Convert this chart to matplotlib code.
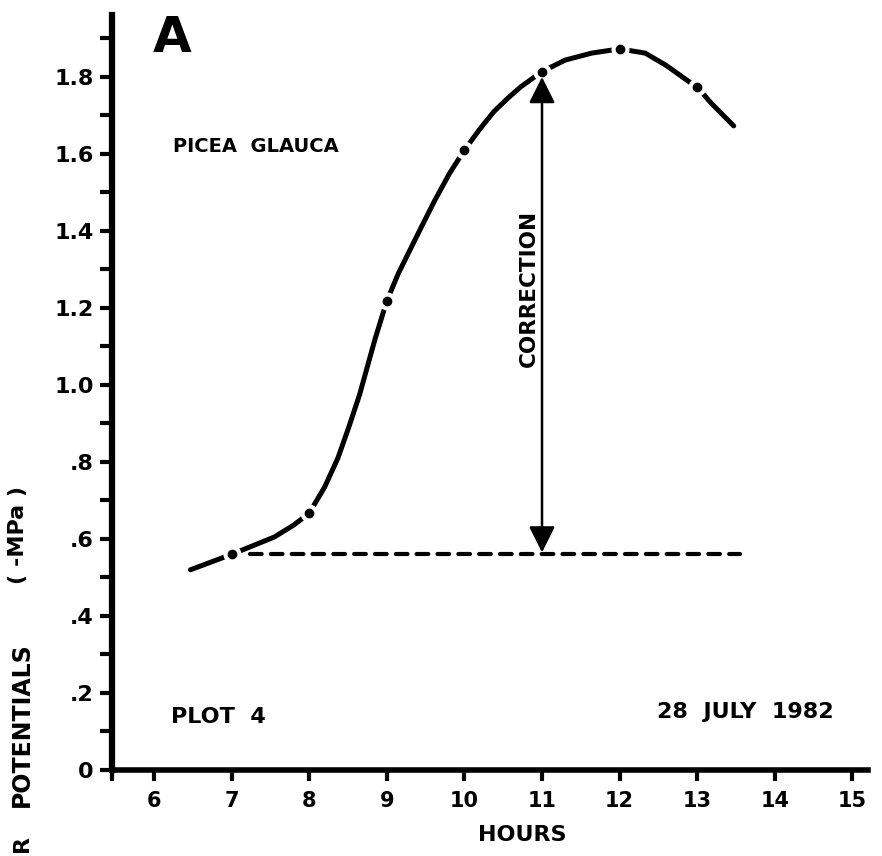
import matplotlib
matplotlib.use('Agg')
import matplotlib.pyplot as plt

# --------------------------------------------------------------------------
#   data (hours vs -MPa)
# --------------------------------------------------------------------------
curve_hours = [6.47, 7.0, 7.55, 7.80, 8.0, 8.2, 8.37, 8.51, 8.65, 8.76, 8.85,
               9.0, 9.15, 9.42, 9.62, 9.81, 10.0, 10.2, 10.38, 10.56, 10.73,
               11.0, 11.3, 11.64, 12.0, 12.33, 12.6, 12.9, 13.0, 13.18,
               13.47]
curve_psi = [0.52, 0.56, 0.605, 0.636, 0.667, 0.735, 0.81, 0.89, 0.975,
             1.055, 1.12, 1.218, 1.29, 1.40, 1.48, 1.55, 1.61, 1.665, 1.71,
             1.745, 1.775, 1.814, 1.844, 1.862, 1.873, 1.862, 1.83, 1.787,
             1.774, 1.732, 1.673]

obs_hours = [7, 8, 9, 10, 11, 12, 13]
obs_psi = [0.56, 0.667, 1.218, 1.61, 1.814, 1.873, 1.774]

base_hours = [7.24, 13.55]
base_psi = [0.56, 0.56]

corr_hour = 11.0
corr_low, corr_high = 0.565, 1.80

x_ticks = [5.46, 6, 7, 8, 9, 10, 11, 12, 13, 14, 15]
x_labels = ['', '6', '7', '8', '9', '10', '11', '12', '13', '14', '15']
y_ticks = [0, 0.2, 0.4, 0.6, 0.8, 1.0, 1.2, 1.4, 1.6, 1.8]
y_labels = ['0', '.2', '.4', '.6', '.8', '1.0', '1.2', '1.4', '1.6', '1.8']
y_minor = [0.1, 0.3, 0.5, 0.7, 0.9, 1.1, 1.3, 1.5, 1.7, 1.9]

plt.rcParams['font.family'] = ['DejaVu Sans']

fig = plt.figure(figsize=(8.82, 8.56), dpi=100)
ax = fig.add_axes([112 / 882, 86 / 856, 756 / 882, 755 / 856])

# curve, then white halos + dots at the measured hours
ax.plot(curve_hours, curve_psi, color='black', lw=3.6,
        solid_capstyle='round', solid_joinstyle='round', zorder=3)
ax.plot(obs_hours, obs_psi, 'o', ms=13, color='white', mec='none', zorder=4)
ax.plot(obs_hours, obs_psi, 'o', ms=7, color='black', mec='none', zorder=5)

# baseline (dashed)
ax.plot(base_hours, base_psi, color='black', lw=3.0, dashes=(2.8, 2.2),
        dash_capstyle='round', zorder=3)

# correction arrow
ax.annotate('', xy=(corr_hour, corr_high), xytext=(corr_hour, corr_low),
            arrowprops=dict(arrowstyle='<|-|>,head_length=0.8,head_width=0.4',
                            lw=1.8, color='black', mutation_scale=20,
                            shrinkA=0, shrinkB=0), zorder=6)
ax.text(10.83, 1.25, 'CORRECTION', rotation=90, ha='center', va='center',
        fontsize=15.5, fontweight='bold')

# labels inside the plot
ax.text(6.24, 1.90, 'A', ha='center', va='center', fontsize=36,
        fontweight='bold')
ax.text(6.25, 1.62, 'PICEA  GLAUCA', ha='left', va='center', fontsize=14,
        fontweight='bold')
ax.text(6.22, 0.138, 'PLOT  4', ha='left', va='center', fontsize=16,
        fontweight='bold')
ax.text(14.76, 0.15, '28  JULY  1982', ha='right', va='center', fontsize=16,
        fontweight='bold')

# axes styling
ax.set_xlim(5.46, 15.2)
ax.set_ylim(0, 1.961)
for side in ['top', 'right']:
    ax.spines[side].set_visible(False)
ax.spines['left'].set_linewidth(4.5)
ax.spines['bottom'].set_linewidth(4.0)

ax.set_xticks(x_ticks)
ax.set_xticklabels(x_labels)
ax.set_yticks(y_ticks)
ax.set_yticklabels(y_labels)
ax.set_yticks(y_minor, minor=True)
ax.tick_params(axis='x', direction='out', length=8, width=3, pad=7,
               labelsize=15)
ax.tick_params(axis='y', which='both', direction='out', length=9, width=3,
               pad=4, labelsize=16)
for lab in ax.get_xticklabels() + ax.get_yticklabels():
    lab.set_fontweight('bold')

ax.text(10.75, -0.17, 'HOURS', ha='center', va='center', fontsize=16,
        fontweight='bold')

# y label: the scan only shows the end of "WATER" at the bottom edge
fig.text(18 / 882, 1 - 535 / 856, '( -MPa )', rotation=90, ha='center',
         va='center', fontsize=16, fontweight='bold')
fig.text(22 / 882, 1 - 725 / 856, 'POTENTIALS', rotation=90, ha='center',
         va='center', fontsize=17, fontweight='bold')
fig.text(22 / 882, 1 - 843 / 856, 'R', rotation=90, ha='center',
         va='center', fontsize=16, fontweight='bold')

fig.savefig('out.png', dpi=100, facecolor='white')
